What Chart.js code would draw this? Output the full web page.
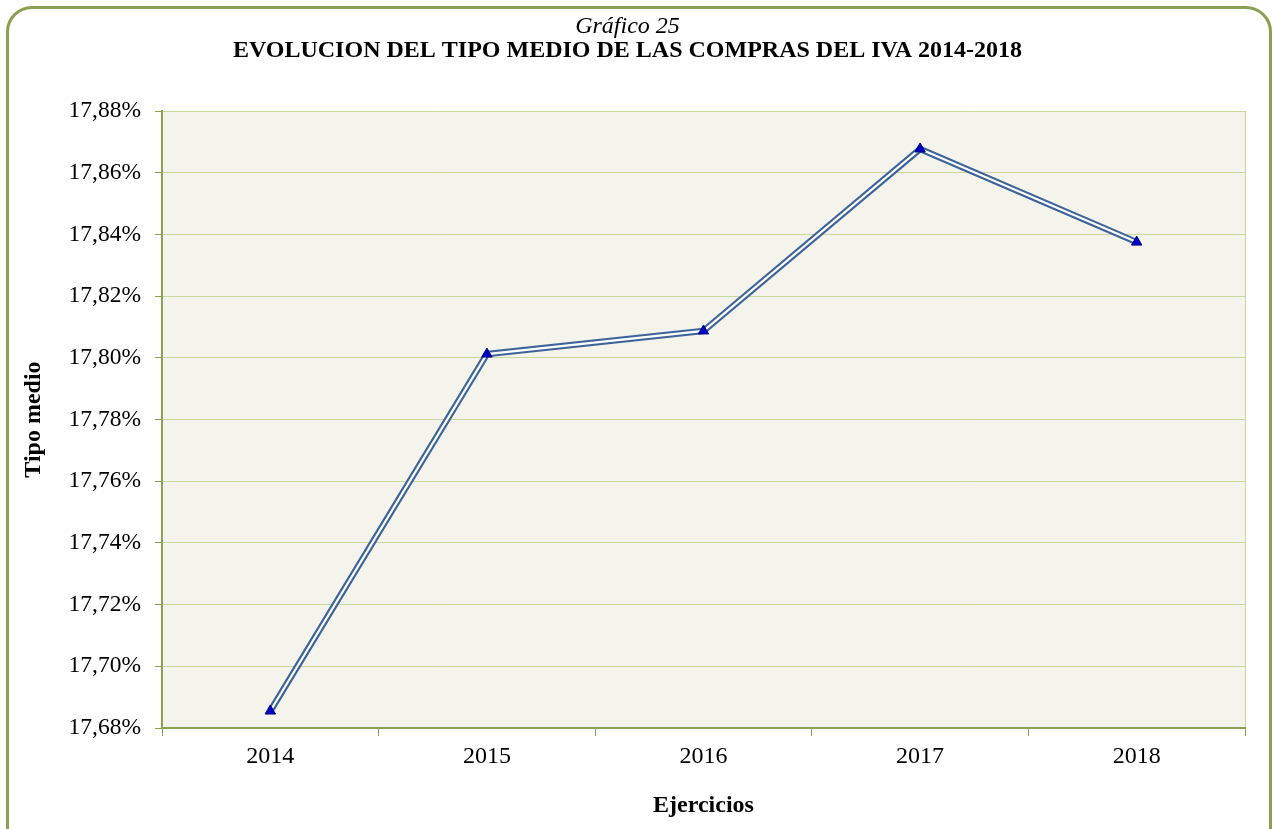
<!DOCTYPE html>
<html>
<head>
<meta charset="utf-8">
<script src="https://cdn.jsdelivr.net/npm/chart.js@4"></script>
<style>
body{margin:0;background:#fff;}
#wrap{position:relative;width:1273px;height:829px;overflow:hidden;}
#frame{position:absolute;left:6px;top:6px;width:1266px;height:850px;border:3px solid #8ba052;border-radius:26px;box-sizing:border-box;}
#c{position:absolute;left:0;top:0;}
</style>
</head>
<body>
<div id="wrap">
<div id="frame"></div>
<canvas id="c" width="1273" height="829"></canvas>
</div>
<script>
// datos
const years = ['2014','2015','2016','2017','2018'];
const tipoMedio = [17.6855, 17.8012, 17.8087, 17.8677, 17.8375];
const yMin = 17.68;
const yMax = 17.88;
const yStep = 0.02;

const serif = "'Liberation Serif', 'Times New Roman', serif";

const plotBg = {
  id: 'plotBg',
  beforeDraw(chart){
    const a = chart.chartArea;
    const c = chart.ctx;
    c.save();
    c.fillStyle = '#f4f4ec';
    c.fillRect(a.left, a.top, a.right - a.left, a.bottom - a.top);
    c.strokeStyle = '#c9d99e';
    c.lineWidth = 1;
    c.beginPath();
    c.moveTo(a.right + 0.5, a.top);
    c.lineTo(a.right + 0.5, a.bottom);
    c.stroke();
    c.restore();
  }
};

const ctx = document.getElementById('c').getContext('2d');

new Chart(ctx, {
  type: 'line',
  data: {
    labels: years,
    datasets: [
      {
        data: tipoMedio,
        borderColor: '#3e6399',
        borderWidth: 6.5,
        pointRadius: 0,
        tension: 0,
        order: 3
      },
      {
        data: tipoMedio,
        borderColor: '#ffffff',
        borderWidth: 2.2,
        pointRadius: 0,
        tension: 0,
        order: 2
      },
      {
        data: tipoMedio,
        showLine: false,
        pointStyle: 'triangle',
        pointRadius: 6,
        pointBackgroundColor: '#0000c8',
        pointBorderColor: '#000080',
        pointBorderWidth: 1,
        order: 1
      }
    ]
  },
  options: {
    responsive: false,
    animation: false,
    layout: { padding: { top: 15, right: 28, left: 10, bottom: 9 } },
    plugins: {
      legend: { display: false },
      tooltip: { enabled: false },
      title: {
        display: true,
        text: 'Gráfico 25',
        color: '#000',
        font: { family: serif, size: 24, style: 'italic', weight: 'normal', lineHeight: 1.0 },
        padding: { top: 0, bottom: 0 }
      },
      subtitle: {
        display: true,
        text: 'EVOLUCION DEL TIPO MEDIO DE LAS COMPRAS DEL IVA 2014-2018',
        color: '#000',
        font: { family: serif, size: 24, weight: 'bold', lineHeight: 1.0 },
        padding: { top: 0, bottom: 48 }
      }
    },
    scales: {
      x: {
        offset: true,
        afterFit(scale){ scale.height = 829 - 9 - 728; },
        grid: {
          offset: true,
          drawOnChartArea: false,
          drawTicks: true,
          tickLength: 8,
          color: '#8ba052'
        },
        border: { color: '#8ba052', width: 2 },
        ticks: {
          color: '#000',
          font: { family: serif, size: 24 },
          padding: 6
        },
        title: {
          display: true,
          text: 'Ejercicios',
          color: '#000',
          font: { family: serif, size: 24, weight: 'bold' },
          padding: { top: 0, bottom: 0 }
        }
      },
      y: {
        min: yMin,
        max: yMax,
        afterFit(scale){ scale.width = 162 - 10; },
        grid: {
          color: '#c9d99e',
          tickLength: 7,
          tickColor: '#8ba052'
        },
        border: { color: '#8ba052', width: 2 },
        ticks: {
          stepSize: yStep,
          color: '#000',
          font: { family: serif, size: 23.5 },
          padding: 14,
          callback: v => v.toFixed(2).replace('.', ',') + '%'
        },
        title: {
          display: true,
          text: 'Tipo medio',
          color: '#000',
          font: { family: serif, size: 24, weight: 'bold' },
          padding: { top: 9, bottom: 0 }
        }
      }
    }
  },
  plugins: [plotBg]
});
</script>
</body>
</html>
